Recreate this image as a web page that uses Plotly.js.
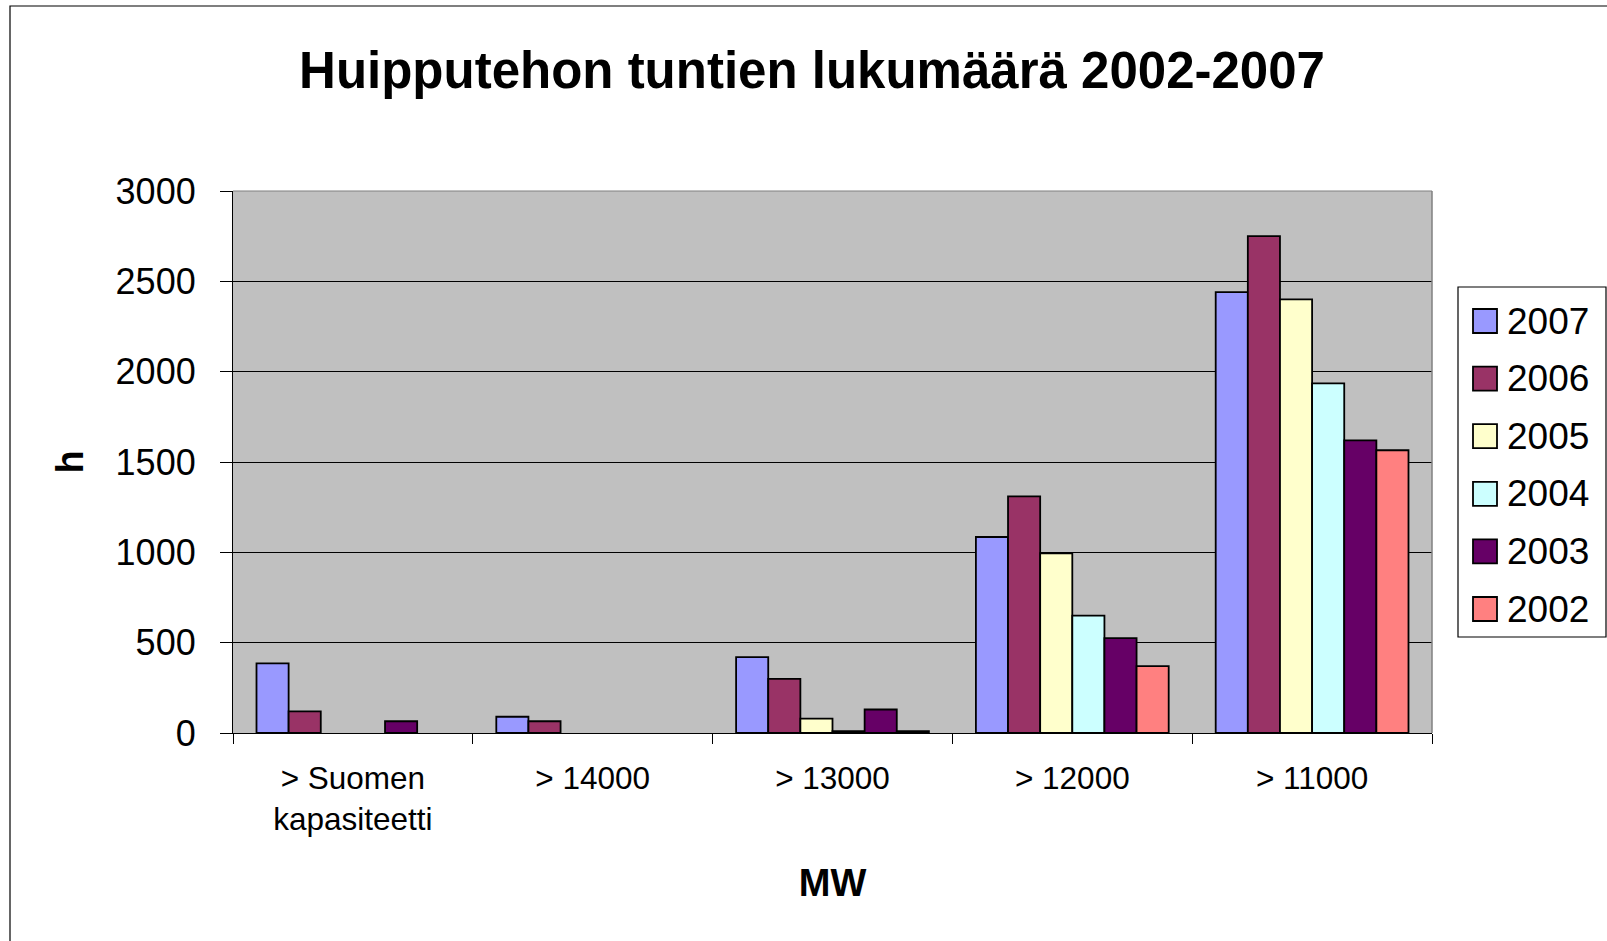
<!DOCTYPE html>
<html>
<head>
<meta charset="utf-8">
<script src="https://cdn.plot.ly/plotly-3.0.1.min.js"></script>
<style>html,body{margin:0;padding:0;background:#fff;}#chart{width:1607px;height:941px;}</style>
</head>
<body>
<div id="chart"></div>
<script>
const categories = ["> Suomen<br>kapasiteetti", "> 14000", "> 13000", "> 12000", "> 11000"];
const years = ["2007", "2006", "2005", "2004", "2003", "2002"];
// null = no bar drawn (no hours in that class)
const v2007 = [385, 90, 420, 1085, 2440];
const v2006 = [120, 65, 300, 1310, 2750];
const v2005 = [null, null, 80, 995, 2400];
const v2004 = [null, null, 10, 650, 1935];
const v2003 = [65, null, 130, 525, 1620];
const v2002 = [null, null, 10, 370, 1565];
const seriesValues = [v2007, v2006, v2005, v2004, v2003, v2002];
const colors = ["#9999FF", "#993366", "#FFFFCC", "#CCFFFF", "#660066", "#FF8080"];

const W = 1607, H = 941;
const L = 233, R = 1432, T = 191, B = 733;
const px = x => (x - L) / (R - L);
const py = y => (B - y) / (B - T);
const FONT = "Liberation Sans, Arial, sans-serif";

const traces = years.map((yr, i) => ({
  type: "bar",
  name: yr,
  x: categories,
  y: seriesValues[i],
  marker: {color: colors[i], line: {color: "#000000", width: 1.8}},
  showlegend: false,
  hoverinfo: "x+y+name"
}));

const shapes = [
  // outer chart frame
  {type: "rect", xref: "paper", yref: "paper", x0: px(10), x1: px(1640), y0: py(980), y1: py(6),
   line: {color: "#000000", width: 1.2}},
  // plot area top & right border (grey)
  {type: "line", xref: "paper", yref: "paper", x0: 0, x1: 1, y0: 1, y1: 1, line: {color: "#808080", width: 1.2}},
  {type: "line", xref: "paper", yref: "paper", x0: 1, x1: 1, y0: 0, y1: 1, line: {color: "#808080", width: 1.5}},
  // legend box
  {type: "rect", xref: "paper", yref: "paper", x0: px(1458), x1: px(1606), y0: py(637), y1: py(287),
   line: {color: "#000000", width: 1.2}, fillcolor: "#ffffff"}
];
const annotations = [];
years.forEach((yr, i) => {
  const cy = 321 + i * 57.6;
  shapes.push({type: "rect", xref: "paper", yref: "paper",
    x0: px(1473), x1: px(1497), y0: py(cy + 12), y1: py(cy - 12),
    line: {color: "#000000", width: 1.8}, fillcolor: colors[i]});
  annotations.push({xref: "paper", yref: "paper", x: px(1505), y: py(cy), xanchor: "left", yanchor: "middle",
    text: yr, showarrow: false, font: {family: FONT, size: 37, color: "#000000"}});
});

const layout = {
  width: W, height: H,
  margin: {l: L, r: W - R, t: T, b: H - B, pad: 0},
  paper_bgcolor: "#ffffff",
  plot_bgcolor: "#C0C0C0",
  font: {family: FONT, color: "#000000"},
  title: {text: "<b>Huipputehon tuntien lukumäärä 2002-2007</b>", font: {family: FONT, size: 51, color: "#000000"},
    xref: "container", x: 812 / W, xanchor: "center", yref: "container", y: 1 - 70 / H, yanchor: "middle"},
  barmode: "group",
  bargap: 0.196,
  bargroupgap: 0,
  showlegend: false,
  xaxis: {
    type: "category",
    tickson: "boundaries",
    ticks: "outside", ticklen: 10, tickwidth: 1, tickcolor: "#000000",
    showline: true, linecolor: "#000000", linewidth: 1.2,
    showgrid: false, zeroline: false,
    tickfont: {family: FONT, size: 31.5, color: "#000000"},
    ticklabelstandoff: 17,
    title: {text: "<b>MW</b>", font: {family: FONT, size: 38, color: "#000000"}, standoff: 33}
  },
  yaxis: {
    range: [0, 3000], dtick: 500, tick0: 0,
    ticks: "outside", ticklen: 12, tickwidth: 1, tickcolor: "#000000",
    showline: true, linecolor: "#000000", linewidth: 1.2,
    showgrid: true, gridcolor: "#000000", gridwidth: 1,
    zeroline: false,
    tickfont: {family: FONT, size: 36, color: "#000000"},
    ticklabelstandoff: 17,
    title: {text: "<b>h</b>", font: {family: FONT, size: 38, color: "#000000"}, standoff: 20}
  },
  shapes: shapes,
  annotations: annotations
};

Plotly.newPlot("chart", traces, layout, {displayModeBar: false, responsive: false});
</script>
</body>
</html>
